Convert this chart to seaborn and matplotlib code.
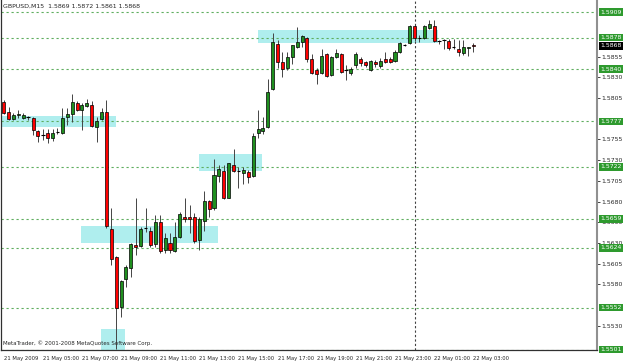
import numpy as np
import pandas as pd
import matplotlib
matplotlib.use("Agg")
import matplotlib.pyplot as plt
import matplotlib.patches as mpatches
import seaborn as sns

# ---- GBPUSD M15 bars, 21 May 03:00 -> 22 May 03:00 ----
opens = [
    1.5800, 1.5788, 1.5780, 1.5785, 1.5781, 1.5782, 1.5781, 1.5765,
    1.5760, 1.5763, 1.5757, 1.5764, 1.5763, 1.5782, 1.5786, 1.5799,
    1.5791, 1.5795, 1.5797, 1.5770, 1.5780, 1.5788, 1.5647, 1.5613,
    1.5553, 1.5587, 1.5600, 1.5628, 1.5626, 1.5648, 1.5644, 1.5629,
    1.5655, 1.5622, 1.5630, 1.5620, 1.5637, 1.5661, 1.5661, 1.5661,
    1.5634, 1.5657, 1.5681, 1.5672, 1.5711, 1.5717, 1.5684, 1.5724,
    1.5717, 1.5715, 1.5716, 1.5711, 1.5763, 1.5765, 1.5770, 1.5816,
    1.5870, 1.5849, 1.5841, 1.5855, 1.5867, 1.5873, 1.5878, 1.5852,
    1.5839, 1.5835, 1.5858, 1.5833, 1.5855, 1.5858, 1.5839, 1.5835,
    1.5845, 1.5852, 1.5849, 1.5839, 1.5849, 1.5844, 1.5852, 1.5852,
    1.5850, 1.5861, 1.5869, 1.5872, 1.5892, 1.5878, 1.5878, 1.5890,
    1.5892, 1.5874, 1.5875, 1.5874, 1.5867, 1.5864, 1.5860, 1.5866,
    1.5869,
]
highs = [
    1.5803, 1.5794, 1.5787, 1.5791, 1.5787, 1.5783, 1.5782, 1.5766,
    1.5768, 1.5768, 1.5768, 1.5769, 1.5793, 1.5793, 1.5810, 1.5801,
    1.5799, 1.5804, 1.5801, 1.5782, 1.5793, 1.5803, 1.5672, 1.5614,
    1.5585, 1.5603, 1.5630, 1.5684, 1.5649, 1.5672, 1.5649, 1.5664,
    1.5664, 1.5642, 1.5642, 1.5655, 1.5667, 1.5684, 1.5676, 1.5666,
    1.5661, 1.5693, 1.5682, 1.5731, 1.5724, 1.5724, 1.5727, 1.5744,
    1.5722, 1.5722, 1.5718, 1.5763, 1.5791, 1.5782, 1.5828, 1.5884,
    1.5875, 1.5861, 1.5861, 1.5869, 1.5891, 1.5881, 1.5879, 1.5858,
    1.5841, 1.5864, 1.5860, 1.5856, 1.5864, 1.5860, 1.5845, 1.5843,
    1.5861, 1.5855, 1.5850, 1.5851, 1.5851, 1.5853, 1.5861, 1.5855,
    1.5863, 1.5873, 1.5870, 1.5893, 1.5893, 1.5881, 1.5893, 1.5899,
    1.5899, 1.5875, 1.5876, 1.5876, 1.5876, 1.5875, 1.5875, 1.5867,
    1.5872,
]
lows = [
    1.5786, 1.5779, 1.5779, 1.5781, 1.5780, 1.5779, 1.5760, 1.5752,
    1.5754, 1.5751, 1.5753, 1.5762, 1.5762, 1.5773, 1.5776, 1.5789,
    1.5766, 1.5794, 1.5770, 1.5752, 1.5779, 1.5648, 1.5603, 1.5502,
    1.5541, 1.5577, 1.5589, 1.5616, 1.5625, 1.5643, 1.5625, 1.5625,
    1.5618, 1.5618, 1.5618, 1.5619, 1.5636, 1.5655, 1.5642, 1.5630,
    1.5622, 1.5644, 1.5661, 1.5670, 1.5704, 1.5683, 1.5684, 1.5716,
    1.5696, 1.5701, 1.5702, 1.5710, 1.5757, 1.5762, 1.5769, 1.5815,
    1.5841, 1.5831, 1.5839, 1.5846, 1.5866, 1.5867, 1.5849, 1.5834,
    1.5822, 1.5834, 1.5831, 1.5832, 1.5853, 1.5835, 1.5827, 1.5833,
    1.5841, 1.5844, 1.5843, 1.5838, 1.5843, 1.5841, 1.5847, 1.5847,
    1.5849, 1.5860, 1.5868, 1.5870, 1.5874, 1.5873, 1.5876, 1.5889,
    1.5873, 1.5870, 1.5864, 1.5863, 1.5864, 1.5856, 1.5857, 1.5856,
    1.5861,
]
closes = [
    1.5787, 1.5780, 1.5785, 1.5786, 1.5785, 1.5782, 1.5766, 1.5759,
    1.5760, 1.5757, 1.5763, 1.5764, 1.5781, 1.5786, 1.5800, 1.5791,
    1.5797, 1.5799, 1.5771, 1.5777, 1.5788, 1.5650, 1.5611, 1.5552,
    1.5584, 1.5601, 1.5629, 1.5625, 1.5647, 1.5648, 1.5628, 1.5655,
    1.5620, 1.5636, 1.5622, 1.5637, 1.5665, 1.5659, 1.5659, 1.5632,
    1.5659, 1.5681, 1.5671, 1.5712, 1.5719, 1.5684, 1.5727, 1.5717,
    1.5717, 1.5718, 1.5710, 1.5759, 1.5768, 1.5769, 1.5812, 1.5873,
    1.5849, 1.5840, 1.5855, 1.5869, 1.5873, 1.5880, 1.5852, 1.5835,
    1.5834, 1.5856, 1.5832, 1.5855, 1.5860, 1.5837, 1.5839, 1.5840,
    1.5858, 1.5847, 1.5845, 1.5850, 1.5846, 1.5850, 1.5849, 1.5849,
    1.5861, 1.5872, 1.5869, 1.5892, 1.5878, 1.5878, 1.5892, 1.5895,
    1.5874, 1.5874, 1.5875, 1.5866, 1.5867, 1.5861, 1.5867, 1.5867,
    1.5868,
]

time_labels = ["21 May 2009", "21 May 05:00", "21 May 07:00", "21 May 09:00",
               "21 May 11:00", "21 May 13:00", "21 May 15:00", "21 May 17:00",
               "21 May 19:00", "21 May 21:00", "21 May 23:00", "22 May 01:00",
               "22 May 03:00"]
day_break_bar = 84

level_prices = [1.5909, 1.5878, 1.5840, 1.5777, 1.5722, 1.5659, 1.5624, 1.5552, 1.5501]
last_price = 1.5868
# scale labels that are not covered by the line labels
price_ticks = [1.5530, 1.5580, 1.5605, 1.5630, 1.5655, 1.5680,
               1.5705, 1.5730, 1.5755, 1.5805, 1.5830, 1.5855]

# rectangles drawn on the chart (bar index from/to, price top/bottom)
zone_from = [-0.6, 15.8, 39.9, 51.9, 19.9]
zone_to = [22.9, 43.9, 52.9, 88.8, 24.8]
zone_top = [1.5783, 1.5650, 1.5737, 1.5887, 1.5526]
zone_bottom = [1.5770, 1.5630, 1.5717, 1.5872, 1.5490]

df = pd.DataFrame({"open": opens, "high": highs, "low": lows, "close": closes})
df["bar"] = np.arange(len(df))

sns.set_style("white")
plt.rcParams["font.family"] = ["DejaVu Sans"]

fig = plt.figure(figsize=(6.25, 3.63), dpi=100)
ax = fig.add_axes([1 / 625, 13 / 363, 596 / 625, 350 / 363])

for x0, x1, top, bot in zip(zone_from, zone_to, zone_top, zone_bottom):
    ax.add_patch(mpatches.Rectangle((x0, bot), x1 - x0, top - bot,
                                    facecolor="#afeeee", edgecolor="none", zorder=0))

for p in level_prices:
    ax.axhline(p, color="#5fae5f", lw=0.8, ls=(0, (2, 2.5)), zorder=1)
ax.axvline(day_break_bar, color="#404040", lw=0.8, ls=(0, (2, 2)), zorder=1)

ax.vlines(df["bar"], df["low"], df["high"], color="#444444", lw=0.7, zorder=2)

body = (df["close"] - df["open"]).abs()
up = (df["close"] > df["open"]) & (body > 0.00004)
down = (df["close"] < df["open"]) & (body > 0.00004)
doji = ~(up | down)

ax.bar(df["bar"][up], (df["close"] - df["open"])[up], bottom=df["open"][up],
       width=0.62, color="#1f8f1f", edgecolor="black", lw=0.5, zorder=3)
ax.bar(df["bar"][down], (df["close"] - df["open"])[down], bottom=df["open"][down],
       width=0.62, color="#ff0000", edgecolor="black", lw=0.5, zorder=3)
ax.hlines(df["close"][doji], df["bar"][doji] - 0.35, df["bar"][doji] + 0.35,
          color="black", lw=0.8, zorder=3)

ax.set_xlim(-0.55, 121.3)
ax.set_ylim(1.55007, 1.59235)

ax.set_xticks(np.arange(0, len(df), 8))
ax.set_xticklabels(time_labels, ha="left", fontsize=3.8)
ax.tick_params(axis="x", direction="out", length=3, width=0.6, pad=1.5)

ax.yaxis.tick_right()
ax.set_yticks(price_ticks)
ax.set_yticklabels([f"{t:.4f}" for t in price_ticks], fontsize=4.4)
ax.tick_params(axis="y", direction="out", length=2, width=0.6, pad=1)

ax.spines["top"].set_visible(False)
ax.spines["left"].set_color("#303030")
ax.spines["left"].set_linewidth(0.9)
ax.spines["bottom"].set_color("#303030")
ax.spines["bottom"].set_linewidth(0.9)
ax.spines["right"].set_color("#909090")
ax.spines["right"].set_linewidth(1.5)

ytr = ax.get_yaxis_transform()
for p in level_prices:
    ax.text(1.0055, p, f"{p:.4f}", transform=ytr, fontsize=4.4, color="white",
            va="center", ha="left", clip_on=False, zorder=6,
            bbox=dict(boxstyle="square,pad=0.2", facecolor="#2e9a2e", edgecolor="none"))
ax.text(1.0055, last_price, f"{last_price:.4f}", transform=ytr, fontsize=4.4,
        color="white", va="center", ha="left", clip_on=False, zorder=6,
        bbox=dict(boxstyle="square,pad=0.2", facecolor="black", edgecolor="none"))

fig.text(3 / 625, 1 - 6 / 363, "GBPUSD,M15  1.5869 1.5872 1.5861 1.5868",
         fontsize=4.5, va="center", ha="left")
ax.text(0.003, 0.012, "MetaTrader, \u00a9 2001-2008 MetaQuotes Software Corp.",
        transform=ax.transAxes, fontsize=4.0, va="bottom", ha="left", zorder=5)

fig.savefig("out.png", dpi=100, facecolor="white")
